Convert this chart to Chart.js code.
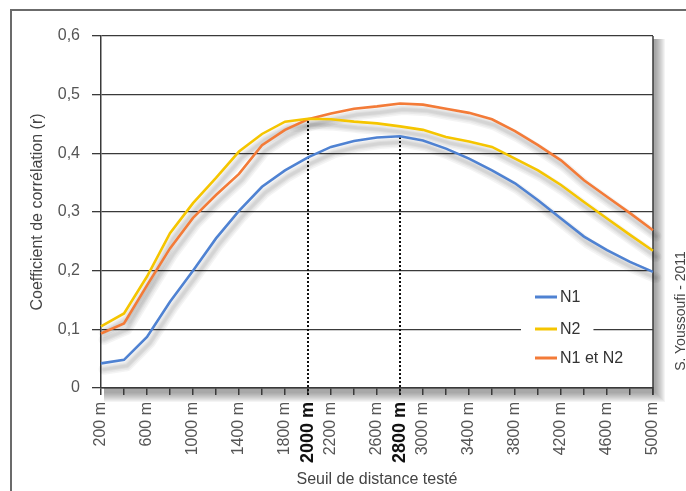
<!DOCTYPE html>
<html>
<head>
<meta charset="utf-8">
<script src="https://cdn.jsdelivr.net/npm/chart.js@4"></script>
<style>
  body { margin: 0; background: #fff; }
  #wrap { position: relative; width: 686px; height: 491px; overflow: hidden; }
  #frame { position: absolute; left: 10px; top: 9px; width: 700px; height: 500px;
           border-top: 2px solid #6b6b6b; border-left: 2px solid #6b6b6b; }
  #credit { position: absolute; left: 680px; top: 311px; white-space: nowrap;
            font: 14px "Liberation Sans", Arial, sans-serif; color: #444;
            transform: translate(-50%, -50%) rotate(-90deg); }
</style>
</head>
<body>
<div id="wrap">
  <div id="frame"></div>
  <canvas id="myChart" width="686" height="491"></canvas>
  <div id="credit">S. Youssoufi - 2011</div>
</div>
<script>
// distances tested (m)
const distances = ["200 m","400 m","600 m","800 m","1000 m","1200 m","1400 m","1600 m","1800 m",
  "2000 m","2200 m","2400 m","2600 m","2800 m","3000 m","3200 m","3400 m","3600 m","3800 m",
  "4000 m","4200 m","4400 m","4600 m","4800 m","5000 m"];

const n1 = [0.042,0.048,0.087,0.147,0.200,0.255,0.302,0.343,0.371,0.393,0.411,0.421,0.427,
  0.429,0.422,0.408,0.391,0.371,0.349,0.320,0.289,0.258,0.235,0.215,0.198];
const n2 = [0.105,0.127,0.190,0.264,0.315,0.358,0.403,0.433,0.454,0.459,0.458,0.454,0.451,
  0.446,0.440,0.428,0.420,0.411,0.391,0.371,0.346,0.317,0.289,0.261,0.234];
const n1n2 = [0.093,0.110,0.175,0.238,0.290,0.329,0.365,0.414,0.440,0.458,0.468,0.476,0.480,
  0.485,0.483,0.476,0.469,0.458,0.438,0.414,0.388,0.354,0.326,0.298,0.269];

// dotted markers
const markedLabels = ["2000 m", "2800 m"];
const markTops = [0.458, 0.429];

const FONT = '"Liberation Sans", Arial, sans-serif';
const GRID = '#3a3a3a';

const plotBg = {
  id: 'plotBg',
  beforeDraw(chart) {
    const {ctx, chartArea: a} = chart;
    ctx.save();
    // fake soft shadow of the plot box (right and bottom)
    for (let s = 1; s <= 10; s++) {
      ctx.fillStyle = 'rgba(0,0,0,0.045)';
      ctx.fillRect(a.left + 3, a.top + 3, a.right - a.left + s - 1, a.bottom - a.top + s + 1);
    }
    ctx.fillStyle = '#fff';
    ctx.fillRect(a.left, a.top, a.right - a.left, a.bottom - a.top);
    ctx.restore();
  },
  beforeDatasetsDraw(chart) {
    const {ctx, chartArea: a, scales} = chart;
    ctx.save();
    // right border of the plot
    ctx.strokeStyle = GRID;
    ctx.lineWidth = 1.5;
    ctx.beginPath();
    ctx.moveTo(a.right, a.top);
    ctx.lineTo(a.right, a.bottom + 7);
    ctx.stroke();
    // dotted markers
    ctx.strokeStyle = '#111';
    ctx.lineWidth = 2;
    ctx.setLineDash([2, 2]);
    markedLabels.forEach((lab, i) => {
      const x = scales.x.getPixelForValue(distances.indexOf(lab));
      ctx.beginPath();
      ctx.moveTo(x, scales.y.getPixelForValue(0) + 7);
      ctx.lineTo(x, scales.y.getPixelForValue(markTops[i]));
      ctx.stroke();
    });
    ctx.setLineDash([]);
    // fake soft shadow under the curves
    ctx.lineJoin = 'round';
    ctx.lineCap = 'round';
    chart.data.datasets.forEach((ds, di) => {
      const pts = chart.getDatasetMeta(di).data;
      [11, 8, 5, 3].forEach(w => {
        ctx.strokeStyle = 'rgba(0,0,0,0.045)';
        ctx.lineWidth = w;
        ctx.beginPath();
        pts.forEach((p, k) => {
          if (k === 0) ctx.moveTo(p.x + 3, p.y + 6);
          else ctx.lineTo(p.x + 3, p.y + 6);
        });
        ctx.stroke();
      });
    });
    ctx.restore();
  },
  afterDraw(chart) {
    const {ctx, chartArea: a} = chart;
    const x0 = a.right - 118;
    const rows = [a.bottom - 91, a.bottom - 59, a.bottom - 30];
    ctx.save();
    ctx.font = '16px ' + FONT;
    ctx.textBaseline = 'middle';
    chart.data.datasets.forEach((ds, i) => {
      const w = ctx.measureText(ds.label).width;
      ctx.fillStyle = '#fff';
      ctx.fillRect(x0 - 14, rows[i] - 11, 22 + 4 + w + 26, 22);
      ctx.strokeStyle = ds.borderColor;
      ctx.lineWidth = 3;
      ctx.beginPath();
      ctx.moveTo(x0, rows[i]);
      ctx.lineTo(x0 + 22, rows[i]);
      ctx.stroke();
      ctx.fillStyle = '#333';
      ctx.fillText(ds.label, x0 + 25, rows[i] + 1);
    });
    ctx.restore();
  }
};

const data = {
  labels: distances,
  datasets: [
    { label: 'N1', data: n1, borderColor: '#4f82d2' },
    { label: 'N2', data: n2, borderColor: '#f5c500' },
    { label: 'N1 et N2', data: n1n2, borderColor: '#f37b38' }
  ]
};

const config = {
  type: 'line',
  data: data,
  options: {
    responsive: false,
    animation: false,
    layout: { padding: { top: 36, right: 33, bottom: 0, left: 0 } },
    elements: {
      line: { borderWidth: 2.6, tension: 0, fill: false },
      point: { radius: 0 }
    },
    plugins: { legend: { display: false }, tooltip: { enabled: false } },
    scales: {
      x: {
        afterFit: (s) => { s.height = 103; },
        grid: { drawOnChartArea: false, drawTicks: true, tickLength: 7, color: GRID, lineWidth: 1.5 },
        border: { color: GRID, width: 1.5 },
        ticks: {
          autoSkip: false, maxRotation: 90, minRotation: 90, padding: 7,
          callback: function (v, i) {
            const lab = distances[i];
            return (i % 2 === 0 || markedLabels.includes(lab)) ? lab : '';
          },
          color: (c) => markedLabels.includes(distances[c.index]) ? '#111' : '#555',
          font: (c) => markedLabels.includes(distances[c.index])
            ? { family: FONT, size: 18, weight: 'bold' }
            : { family: FONT, size: 16 }
        },
        title: {
          display: true, text: 'Seuil de distance testé', color: '#444',
          font: { family: FONT, size: 16 }, padding: { top: 0, bottom: 2 }
        }
      },
      y: {
        min: 0, max: 0.6,
        afterFit: (s) => { s.width = 101; },
        grid: { color: GRID, lineWidth: 1.3, tickLength: 9 },
        border: { color: GRID, width: 1.5 },
        ticks: {
          stepSize: 0.1, padding: 12, color: '#555',
          font: { family: FONT, size: 16 },
          callback: (v) => v === 0 ? '0' : v.toFixed(1).replace('.', ',')
        },
        title: {
          display: true, text: 'Coefficient de corrélation (r)', color: '#444',
          font: { family: FONT, size: 16 }, padding: { top: 28, bottom: 0 }
        }
      }
    }
  },
  plugins: [plotBg]
};

new Chart(document.getElementById('myChart'), config);
</script>
</body>
</html>
